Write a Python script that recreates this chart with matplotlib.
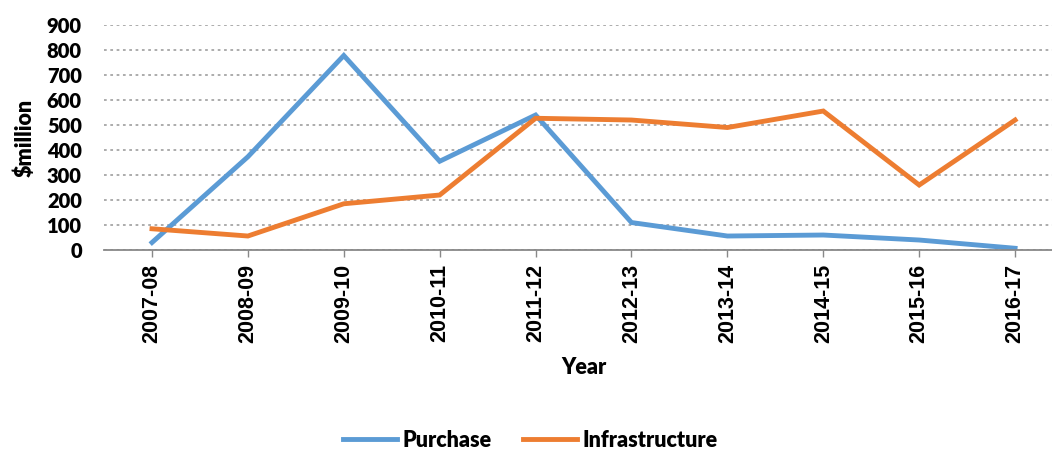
import matplotlib
matplotlib.use("Agg")
import matplotlib.pyplot as plt
import numpy as np

plt.rcParams["font.family"] = ["Lato", "DejaVu Sans"]
plt.rcParams["font.weight"] = "heavy"

years = ["2007-08", "2008-09", "2009-10", "2010-11", "2011-12",
         "2012-13", "2013-14", "2014-15", "2015-16", "2016-17"]
purchase = [30, 373, 778, 355, 540, 110, 56, 60, 40, 7]
infrastructure = [85, 56, 185, 220, 527, 520, 490, 556, 260, 520]

fig = plt.figure(figsize=(10.52, 4.5), dpi=100)
ax = fig.add_axes([0.0989, 0.4444, 0.9116, 0.5])

x = np.arange(len(years))
ax.plot(x, purchase, color="#5B9BD5", lw=3.5, label="Purchase", solid_joinstyle="miter")
ax.plot(x, infrastructure, color="#ED7D31", lw=3.5, label="Infrastructure", solid_joinstyle="miter")

ax.set_xlim(-0.5, len(years) - 0.5)
ax.set_ylim(0, 900)
ax.set_yticks(range(0, 901, 100))
ax.set_xticks(x)
ax.set_xticklabels(years, rotation=90, fontsize=15.5, fontweight="bold",
                   family="Liberation Sans")
ax.tick_params(axis="y", length=0, labelsize=14.5, pad=16)
ax.tick_params(axis="x", length=5, color="#888888", width=1, pad=5)
for lbl in ax.get_yticklabels():
    lbl.set_fontweight("heavy")

ax.grid(True, axis="y", color="#A6A6A6", linestyle=(0, (1.5, 2)), lw=1.3)
ax.set_axisbelow(True)
for s in ["top", "right", "left"]:
    ax.spines[s].set_visible(False)
ax.spines["bottom"].set_color("#888888")
ax.spines["bottom"].set_linewidth(1.3)

ax.set_ylabel("$million", fontsize=15.5, fontweight="heavy", labelpad=8)
ax.set_xlabel("Year", fontsize=15.5, fontweight="heavy", labelpad=10)

fig.legend(loc="center", bbox_to_anchor=(0.504, 0.022), ncol=2, frameon=False,
           handlelength=2.5, handletextpad=0.25, columnspacing=1.45,
           prop={"weight": "heavy", "size": 15.5})

fig.savefig("out.png", dpi=100)
